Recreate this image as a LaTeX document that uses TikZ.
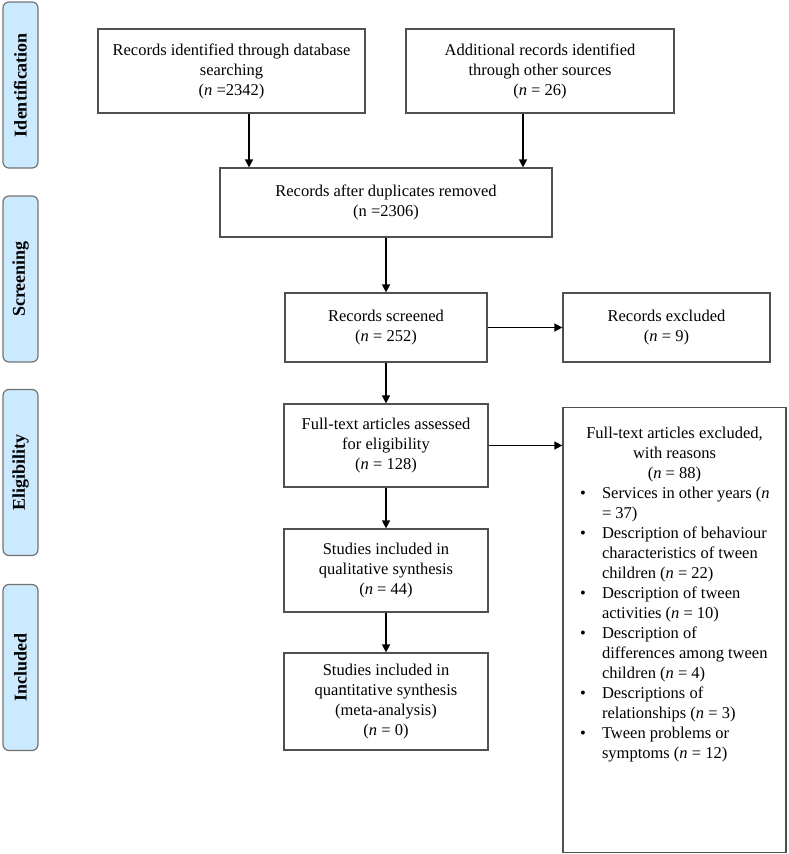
\documentclass[tikz,border=0pt]{standalone}
\usepackage{fontspec}
\setmainfont{Liberation Serif}
\usepackage{tikz}
\usetikzlibrary{arrows.meta}

\definecolor{phasefill}{RGB}{204,234,255}
\definecolor{linegray}{RGB}{80,80,80}

\tikzset{
    box/.style = {draw = linegray, line width = 1.2pt, align = center, inner sep = 4pt,
        font = \fontsize{16.5}{20}\selectfont},
    phase/.style = {draw = gray!90!black, fill = phasefill, rounded corners = 6pt,
        line width = 1.2pt, rotate = 90, minimum width = 166pt, minimum height = 35pt,
        inner sep = 0pt, font = \fontsize{18}{20}\selectfont\bfseries},
}

\newcommand{\reason}[1]{\par\hangindent=34pt\hangafter=1\noindent\hspace*{12pt}\makebox[22pt][l]{\textbullet}#1}

\begin{document}
\begin{tikzpicture}[x = 1pt, y = -1pt, line width = 1.4pt, >={Triangle[length = 8pt, width = 8pt]}]
\useasboundingbox (0,0) rectangle (789,854);

\draw (20.5,85) node[phase](p1){Identification}
    (20.5,279) node[phase](p2){Screening}
    (20.5,472.5) node[phase](p3){Eligibility}
    (20.5,667.5) node[phase](p4){Included};

\draw (231.5,71) node[box, minimum width = 267pt, minimum height = 84pt](db){Records identified through database\\ searching\\ (\textit{n} =2342)}
    (540,71) node[box, minimum width = 268pt, minimum height = 84pt](other){Additional records identified\\ through other sources\\ (\textit{n} = 26)}
    (386,202.5) node[box, minimum width = 332pt, minimum height = 69pt](dup){Records after duplicates removed\\ (n =2306)}
    (386,327.5) node[box, minimum width = 202pt, minimum height = 69pt](scr){Records screened\\ (\textit{n} = 252)}
    (666.5,327.5) node[box, minimum width = 207pt, minimum height = 69pt](excl){Records excluded\\ (\textit{n} = 9)}
    (386,445.5) node[box, minimum width = 204pt, minimum height = 83pt](full){Full-text articles assessed\\ for eligibility\\ (\textit{n} = 128)}
    (386,570.5) node[box, minimum width = 204pt, minimum height = 83pt](qual){Studies included in\\ qualitative synthesis\\ (\textit{n} = 44)}
    (386,701.5) node[box, minimum width = 204pt, minimum height = 97pt](quant){Studies included in\\ quantitative synthesis\\ (meta-analysis)\\ (\textit{n} = 0)};

\node[box, anchor = north, minimum width = 223pt, minimum height = 445pt, inner sep = 4pt] (fexcl) at (674.5,407)
    {\begin{minipage}[c][437pt][t]{213pt}
     \vspace*{15pt}
     \centering Full-text articles excluded,\\ with reasons\\ (\textit{n} = 88)\par
     \raggedright
     \reason{Services in other years (\textit{n}\newline = 37)}
     \reason{Description of behaviour\newline characteristics of tween\newline children (\textit{n} = 22)}
     \reason{Description of tween\newline activities (\textit{n} = 10)}
     \reason{Description of\newline differences among tween\newline children (\textit{n} = 4)}
     \reason{Descriptions of\newline relationships (\textit{n} = 3)}
     \reason{Tween problems or\newline symptoms (\textit{n} = 12)}
     \end{minipage}};

\coordinate (c1) at (249,0);
\coordinate (c2) at (523,0);

    \path[->] (db.south -| c1) edge (dup.north -| c1);
    \path[->] (other.south -| c2) edge (dup.north -| c2);
    \path[->] (dup) edge (scr);
    \path[->] (scr) edge (excl);
    \path[->] (scr) edge (full);
    \path[->] (full.east) edge (full.east -| fexcl.west);
    \path[->] (full) edge (qual);
    \path[->] (qual) edge (quant);

\end{tikzpicture}
\end{document}
